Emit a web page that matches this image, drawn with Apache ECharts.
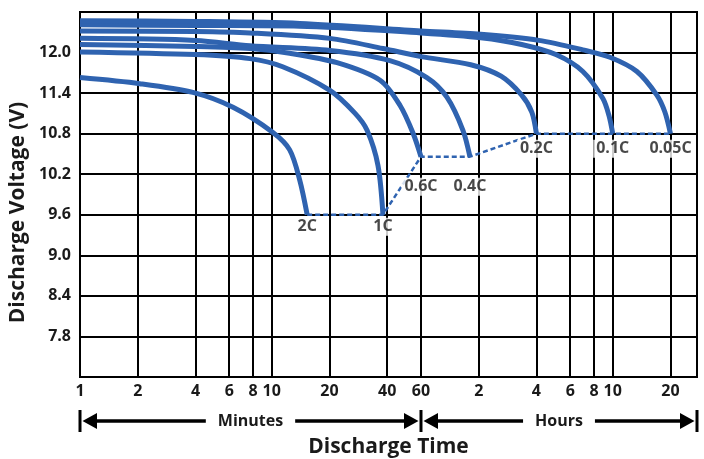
<!DOCTYPE html>
<html><head><meta charset="utf-8">
<script src="https://cdn.jsdelivr.net/npm/echarts@6/dist/echarts.min.js"></script>
<style>html,body{margin:0;padding:0;background:#fff}#c{width:704px;height:459px}</style>
</head><body><div id="c"></div><script>
// ---- data (minutes, volts) ----
const xTickMinutes = [1,2,4,6,8,10,20,40,60,120,240,360,480,600,1200];
const xTickLabels  = ['1','2','4','6','8','10','20','40','60','2','4','6','8','10','20'];
const yTickLabels  = [7.8,8.4,9.0,9.6,10.2,10.8,11.4,12.0];
const rates = ['2C','1C','0.6C','0.4C','0.2C','0.1C','0.05C'];

const min_2C   = [1,2.05,3.88,6.28,10.1,12.4,14.0,15.3];
const volt_2C  = [11.63,11.54,11.41,11.19,10.82,10.56,10.11,9.6];
const min_1C   = [1,4,7.7,11.4,20.1,27.2,31.4,35.8,38];
const volt_1C  = [12.01,11.97,11.91,11.79,11.44,11.10,10.85,10.33,9.6];
const min_06C  = [1,4,7.7,12.4,21.9,36.7,46.6,54.5,60];
const volt_06C = [12.12,12.09,12.06,11.99,11.85,11.59,11.22,10.81,10.46];
const min_04C  = [1,4,7.7,20.1,41.3,64.4,81.9,99.3,108];
const volt_04C = [12.21,12.18,12.10,12.03,11.88,11.63,11.34,10.85,10.46];
const min_02C  = [1,4,7.7,20.1,38,60,109,157,201,227,240];
const volt_02C = [12.32,12.31,12.29,12.21,12.06,11.94,11.82,11.65,11.37,11.12,10.8];
const min_01C  = [1,4,14,60,123,201,303,419,533,573,600];
const volt_01C = [12.41,12.40,12.39,12.29,12.22,12.12,11.97,11.72,11.32,11.07,10.8];
const min_005C = [1,4,14,60,123,247,419,580,802,1019,1122,1200];
const volt_005C= [12.47,12.46,12.43,12.32,12.27,12.18,12.04,11.93,11.72,11.37,11.12,10.8];

const xMaxMinutes = 1650;
const yMin = 7.2, yMax = 12.6, yStep = 0.6;

// ---- build ----
const BLUE = '#2f63b0';
const FONT = 'Open Sans';
const TXT = '#1a1a1a';
const lg = m => Math.log10(m);
const curves = [
  [min_2C, volt_2C], [min_1C, volt_1C], [min_06C, volt_06C], [min_04C, volt_04C],
  [min_02C, volt_02C], [min_01C, volt_01C], [min_005C, volt_005C]
];
const ends = curves.map(([m, v]) => [lg(m[m.length-1]), v[v.length-1]]);
const labelDrop = [12,12,30,30,15,15,15];
const xTickPos = xTickMinutes.map(lg);

const series = curves.map(([m, v], i) => ({
  name: rates[i], type: 'line', smooth: 0.3, symbol: 'none', z: 5,
  lineStyle: { color: BLUE, width: 5, cap: 'butt' },
  data: m.map((t, k) => [lg(t), v[k]])
}));
series.push({
  name: 'cutoff', type: 'line', symbol: 'none', z: 4,
  lineStyle: { color: BLUE, width: 2.5, type: [5, 3] },
  data: ends
});
series.push({
  name: 'labels', type: 'scatter', symbolSize: 0, z: 6, silent: true,
  data: ends.map((p, i) => ({
    value: p,
    label: {
      show: true, position: 'inside', offset: [0, labelDrop[i]],
      formatter: rates[i], fontFamily: FONT, fontWeight: 'bold', fontSize: 16,
      color: TXT, backgroundColor: '#fff', padding: [0, 3], lineHeight: 18
    }
  }))
});

const labelStyle = { fontFamily: FONT, fontWeight: 'bold', fontSize: 16, color: TXT };

const chart = echarts.init(document.getElementById('c'));
chart.setOption({
  animation: false,
  backgroundColor: '#fff',
  grid: { left: 80, right: 7, top: 12, bottom: 82, show: true, borderColor: '#000', borderWidth: 2,
          containLabel: false, outerBoundsMode: 'none' },
  xAxis: {
    type: 'value', min: 0, max: lg(xMaxMinutes),
    axisLine: { show: true, lineStyle: { color: '#000', width: 2 } },
    axisTick: { show: false, customValues: xTickPos },
    axisLabel: Object.assign({
      customValues: xTickPos, margin: 6,
      formatter: v => { const i = xTickPos.findIndex(p => Math.abs(p - v) < 1e-6); return i >= 0 ? xTickLabels[i] : ''; }
    }, labelStyle),
    splitLine: { show: true, lineStyle: { color: '#000', width: 2 } },
    name: 'Discharge Time', nameLocation: 'middle', nameGap: 60,
    nameTextStyle: { fontFamily: FONT, fontWeight: 'bold', fontSize: 21, color: TXT }
  },
  yAxis: {
    type: 'value', min: yMin, max: yMax, interval: yStep,
    axisLine: { show: true, lineStyle: { color: '#000', width: 2 } },
    axisTick: { show: false },
    axisLabel: Object.assign({ customValues: yTickLabels, margin: 9, formatter: v => v.toFixed(1) }, labelStyle),
    splitLine: { show: true, lineStyle: { color: '#000', width: 2 } },
    name: 'Discharge Voltage (V)', nameLocation: 'middle', nameGap: 50,
    nameTextStyle: { fontFamily: FONT, fontWeight: 'bold', fontSize: 21, color: TXT, padding: [0, 36, 0, 0] }
  },
  series
});

// ---- range arrows under the axis ----
const px = v => chart.convertToPixel({ gridIndex: 0 }, [v, yMin]);
const xa = px(0)[0], xb = px(lg(60))[0], xc = px(lg(xMaxMinutes))[0];
const ay = px(0)[1] + 44;
const els = [];
[xa, xb, xc].forEach(x => els.push({ type: 'line', shape: { x1: x, y1: ay - 11, x2: x, y2: ay + 11 }, style: { stroke: '#000', lineWidth: 3 } }));
[[xa, xb, 'Minutes'], [xb, xc, 'Hours']].forEach(([l, r, t]) => {
  els.push({ type: 'line', shape: { x1: l + 14, y1: ay, x2: r - 14, y2: ay }, style: { stroke: '#000', lineWidth: 3.5 } });
  els.push({ type: 'polygon', shape: { points: [[l + 2.5, ay], [l + 17, ay - 8], [l + 17, ay + 8]] }, style: { fill: '#000' } });
  els.push({ type: 'polygon', shape: { points: [[r - 2.5, ay], [r - 17, ay - 8], [r - 17, ay + 8]] }, style: { fill: '#000' } });
  els.push({ type: 'text', x: (l + r) / 2, y: ay, z: 10, style: { text: t, fill: TXT, font: 'bold 16px "Open Sans"', align: 'center', verticalAlign: 'middle', backgroundColor: '#fff', padding: [2, 12] } });
});
chart.setOption({ graphic: { elements: els } });
</script></body></html>
